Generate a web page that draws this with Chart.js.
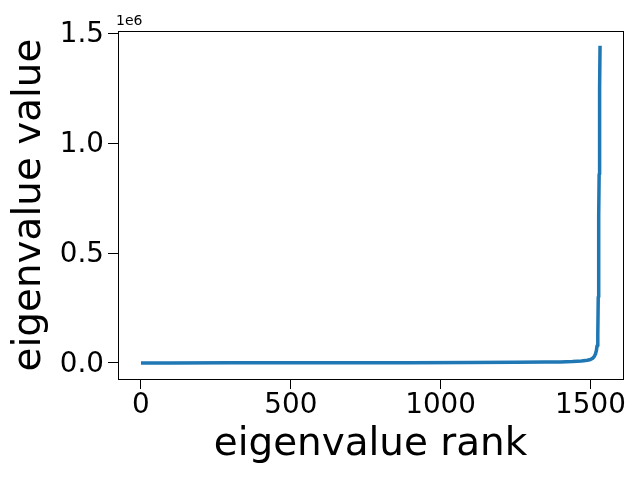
<!DOCTYPE html>
<html>
<head>
<meta charset="utf-8">
<script src="https://cdn.jsdelivr.net/npm/chart.js@4/dist/chart.umd.min.js"></script>
<style>
  html, body { margin: 0; padding: 0; background: #fff; }
  #wrap { width: 640px; height: 480px; }
</style>
</head>
<body>
<div id="wrap"><canvas id="c" width="640" height="480"></canvas></div>
<script>
// Eigenvalue rank (x) and eigenvalue value (y)
const ranks = [0, 100, 300, 500, 700, 900, 1100, 1250, 1350, 1400, 1440, 1470, 1490, 1500, 1508, 1513, 1517, 1520, 1522, 1524, 1525, 1526, 1527, 1528, 1529, 1530, 1531, 1532];
const values = [200, 300, 500, 800, 1100, 1500, 2100, 2900, 3900, 4800, 6500, 9000, 12500, 16000, 22000, 30000, 42000, 58000, 78000, 105000, 130000, 300000, 480000, 670000, 860000, 1050000, 1250000, 1445000];
const xTicks = [0, 500, 1000, 1500];
const yTicks = [0, 500000, 1000000, 1500000];
const xLabel = 'eigenvalue rank';
const yLabel = 'eigenvalue value';
const offsetText = '1e6';

const points = ranks.map((r, i) => ({ x: r, y: values[i] }));
const FONT = 'DejaVu Sans';

const framePlugin = {
  id: 'frame',
  afterDatasetsDraw(chart) {
    const { ctx, chartArea: a } = chart;
    ctx.save();
    ctx.strokeStyle = '#000';
    ctx.lineWidth = 1;
    ctx.strokeRect(Math.round(a.left) + 0.5, Math.round(a.top) + 0.5,
                   Math.round(a.right - a.left), Math.round(a.bottom - a.top));
    ctx.fillStyle = '#000';
    ctx.font = '14px "' + FONT + '"';
    ctx.textAlign = 'left';
    ctx.textBaseline = 'bottom';
    ctx.fillText(offsetText, a.left - 2, a.top - 3);
    ctx.restore();
  }
};

new Chart(document.getElementById('c'), {
  type: 'scatter',
  data: {
    datasets: [{
      data: points,
      showLine: true,
      borderColor: '#1f77b4',
      backgroundColor: '#1f77b4',
      borderWidth: 3.5,
      pointRadius: 0,
      borderCapStyle: 'butt',
      borderJoinStyle: 'round',
      tension: 0
    }]
  },
  options: {
    responsive: false,
    animation: false,
    events: [],
    layout: { padding: { top: 31, right: 17, left: 0, bottom: 0 } },
    plugins: { legend: { display: false }, tooltip: { enabled: false } },
    scales: {
      x: {
        type: 'linear',
        min: -76.6,
        max: 1608.6,
        afterBuildTicks: s => { s.ticks = xTicks.map(v => ({ value: v })); },
        afterFit: s => { s.height = 101; },
        grid: { display: true, drawOnChartArea: false, drawTicks: true, tickLength: 10, tickColor: '#000', lineWidth: 1 },
        border: { display: false },
        ticks: { color: '#000', font: { family: FONT, size: 27.8 }, padding: 0, maxRotation: 0, autoSkip: false,
                 callback: v => String(v) },
        title: { display: true, text: xLabel, color: '#000', font: { family: FONT, size: 38.9 }, padding: { top: 0, bottom: 12 } }
      },
      y: {
        type: 'linear',
        min: -73000,
        max: 1512000,
        afterBuildTicks: s => { s.ticks = yTicks.map(v => ({ value: v })); },
        afterFit: s => { s.width = 118; },
        grid: { display: true, drawOnChartArea: false, drawTicks: true, tickLength: 10, tickColor: '#000', lineWidth: 1 },
        border: { display: false },
        ticks: { color: '#000', font: { family: FONT, size: 27.8 }, padding: 4, labelOffset: 1.5, autoSkip: false,
                 callback: v => (v / 1e6).toFixed(1) },
        title: { display: true, text: yLabel, color: '#000', font: { family: FONT, size: 38.9 }, padding: { top: 7, bottom: 0 } }
      }
    }
  },
  plugins: [framePlugin]
});
</script>
</body>
</html>
